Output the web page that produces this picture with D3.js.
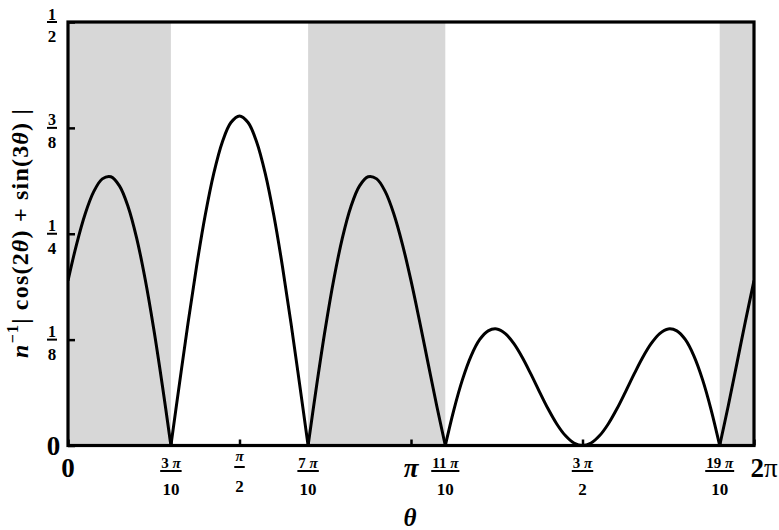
<!DOCTYPE html>
<html><head><meta charset="utf-8">
<script src="https://cdn.jsdelivr.net/npm/d3@7"></script>
<style>body{margin:0;background:#fff} svg{display:block} text{font-family:'Liberation Serif','Times New Roman',serif;font-weight:bold;fill:#000}</style>
</head><body>
<svg id="chart" width="779" height="530"></svg>
<script>
// theta in units of pi
const thetaOverPi = [0,0.025,0.05,0.075,0.1,0.125,0.15,0.175,0.2,0.225,0.25,0.275,0.3,0.325,0.35,0.375,0.4,0.425,0.45,0.475,0.5,
0.525,0.55,0.575,0.6,0.625,0.65,0.675,0.7,0.725,0.75,0.775,0.8,0.825,0.85,0.875,0.9,0.925,0.95,0.975,1,
1.025,1.05,1.075,1.1,1.125,1.15,1.175,1.2,1.225,1.25,1.275,1.3,1.325,1.35,1.375,1.4,1.425,1.45,1.475,1.5,
1.525,1.55,1.575,1.6,1.625,1.65,1.675,1.7,1.725,1.75,1.775,1.8,1.825,1.85,1.875,1.9,1.925,1.95,1.975,2];
const yValues = [0.1946,0.2376,0.2734,0.2997,0.3148,0.3173,0.3065,0.2823,0.2452,0.1963,0.1376,0.0712,0,0.0731,0.1448,0.2120,0.2718,0.3213,0.3584,0.3813,0.3891,
0.3813,0.3584,0.3213,0.2718,0.2120,0.1448,0.0731,0,0.0712,0.1376,0.1963,0.2452,0.2823,0.3065,0.3173,0.3148,0.2997,0.2734,0.2376,0.1946,
0.1467,0.0967,0.0470,0,0.0422,0.0778,0.1056,0.1249,0.1354,0.1376,0.1321,0.1202,0.1036,0.0839,0.0631,0.0430,0.0254,0.0117,0.0030,0,
0.0030,0.0117,0.0254,0.0430,0.0631,0.0839,0.1036,0.1202,0.1321,0.1376,0.1354,0.1249,0.1056,0.0778,0.0422,0,0.0470,0.0967,0.1467,0.1946];
const cuspsOverPi = [0.3,0.7,1.1,1.9];
const bandStarts = [0,0.7,1.9];
const bandEnds = [0.3,1.1,2];

const xTickValues = [0,0.3,0.5,0.7,1,1.1,1.5,1.9,2];
const xTickPlain = ['0','','','','π','','','','2π'];
const xTickNumDigits = ['','3','','7','','11','3','19',''];
const xTickDen = ['','10','2','10','','10','2','10',''];

const yTickValues = [0,0.125,0.25,0.375,0.5];
const yTickPlain = ['0','','','',''];
const yTickNum = ['','1','1','3','1'];
const yTickDen = ['','8','4','8','2'];

const svg = d3.select('#chart');
const x = d3.scaleLinear().domain([0,2]).range([68,754]);
const y = d3.scaleLinear().domain([0,0.5]).range([445.5,22]);

// shaded bands
svg.selectAll('rect.band').data(bandStarts.map((s,i)=>[s,bandEnds[i]])).enter().append('rect')
  .attr('class','band').attr('x',d=>x(d[0])).attr('width',d=>x(d[1])-x(d[0]))
  .attr('y',y(0.5)).attr('height',y(0)-y(0.5)).attr('fill','#d7d7d7');

// curve split at cusps
const pts = thetaOverPi.map((t,i)=>({t, v:yValues[i]}));
const segs = []; let cur = [];
pts.forEach(p=>{
  cur.push(p);
  if (cuspsOverPi.some(c=>Math.abs(c-p.t)<1e-9)) { segs.push(cur); cur=[p]; }
});
if (cur.length>1) segs.push(cur);
const line = d3.line().x(d=>x(d.t)).y(d=>y(d.v)).curve(d3.curveCatmullRom.alpha(0.5));
svg.append('clipPath').attr('id','clip').append('rect').attr('x',x(0)).attr('y',y(0.5)).attr('width',x(2)-x(0)).attr('height',y(0)-y(0.5));
svg.append('g').attr('clip-path','url(#clip)').selectAll('path').data(segs).enter().append('path')
  .attr('d',line).attr('fill','none').attr('stroke','#000').attr('stroke-width',3).attr('stroke-linejoin','round');

// ticks
const xAxis = d3.axisBottom(x).tickValues(xTickValues).tickSize(-6).tickFormat('');
const gx = svg.append('g').attr('transform',`translate(0,${y(0)})`).call(xAxis);
gx.select('.domain').remove();
gx.selectAll('.tick line').attr('stroke','#000').attr('stroke-width',2.5);
const yAxis = d3.axisLeft(y).tickValues(yTickValues).tickSize(-7).tickFormat('');
const gy = svg.append('g').attr('transform',`translate(${x(0)},0)`).call(yAxis);
gy.select('.domain').remove();
gy.selectAll('.tick line').attr('stroke','#000').attr('stroke-width',2.5);

// frame
svg.append('rect').attr('x',x(0)).attr('y',y(0.5)).attr('width',x(2)-x(0)).attr('height',y(0)-y(0.5))
  .attr('fill','none').attr('stroke','#000').attr('stroke-width',3.2);

// x tick labels
xTickValues.forEach((v,i)=>{
  const cx = x(v);
  if (xTickPlain[i]) {
    const t = svg.append('text').attr('x', i===8 ? cx+10 : cx).attr('y',477).attr('text-anchor','middle').attr('font-size',27);
    if (xTickPlain[i]==='π') t.attr('font-style','italic').text('π');
    else if (xTickPlain[i]==='2π') { t.append('tspan').text('2'); t.append('tspan').attr('font-weight','normal').text('π'); }
    else t.text(xTickPlain[i]);
  } else {
    const isHalf = xTickDen[i]==='2' && !xTickNumDigits[i];
    const nb = isHalf ? 461 : 468, bar = isHalf ? 467 : 471, db = isHalf ? 492 : 495;
    const num = svg.append('text').attr('x',cx).attr('y',nb).attr('text-anchor','middle').attr('font-size',15);
    if (xTickNumDigits[i]) num.append('tspan').text(xTickNumDigits[i]+' ');
    num.append('tspan').attr('font-style','italic').text('π');
    const den = svg.append('text').attr('x',cx).attr('y',db).attr('text-anchor','middle').attr('font-size',17).text(xTickDen[i]);
    const w = Math.max(num.node().getComputedTextLength(), den.node().getComputedTextLength());
    svg.append('line').attr('x1',cx-w/2-1).attr('x2',cx+w/2+1).attr('y1',bar).attr('y2',bar).attr('stroke','#000').attr('stroke-width',2);
  }
});

// y tick labels
yTickValues.forEach((v,i)=>{
  const cy = y(v), cx = 52;
  if (yTickPlain[i]) {
    svg.append('text').attr('x',53.5).attr('y',455).attr('text-anchor','middle').attr('font-size',27).text(yTickPlain[i]);
  } else {
    svg.append('text').attr('x',cx).attr('y',cy-2.5).attr('text-anchor','middle').attr('font-size',16).text(yTickNum[i]);
    svg.append('text').attr('x',cx).attr('y',cy+20).attr('text-anchor','middle').attr('font-size',17).text(yTickDen[i]);
    svg.append('line').attr('x1',cx-5).attr('x2',cx+5).attr('y1',cy).attr('y2',cy).attr('stroke','#000').attr('stroke-width',2);
  }
});

// axis titles
svg.append('text').attr('x',410).attr('y',526).attr('text-anchor','middle').attr('font-size',25).attr('font-style','italic').text('θ');
const yt = svg.append('text').attr('transform','translate(28,233) rotate(-90)').attr('text-anchor','middle').attr('font-size',24).attr('letter-spacing',1.2);
yt.append('tspan').attr('font-style','italic').text('n');
yt.append('tspan').attr('font-size',16).attr('dy',-10).text('−1');
yt.append('tspan').attr('dy',10).text('| cos(2');
yt.append('tspan').attr('font-style','italic').text('θ');
yt.append('tspan').text(') + sin(3');
yt.append('tspan').attr('font-style','italic').text('θ');
yt.append('tspan').text(') |');
</script>
</body></html>
